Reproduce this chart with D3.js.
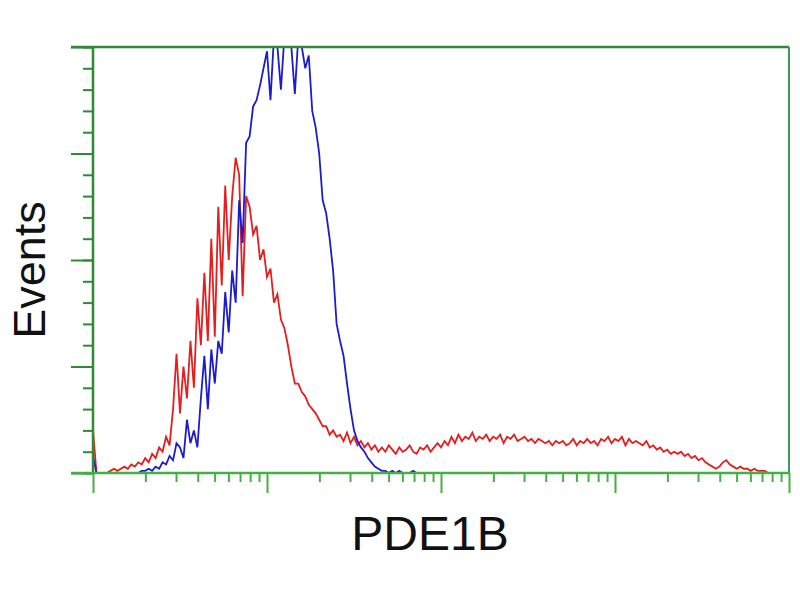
<!DOCTYPE html>
<html>
<head>
<meta charset="utf-8">
<script src="https://cdn.jsdelivr.net/npm/d3@7"></script>
<style>
  html, body { margin: 0; padding: 0; background: #fff; }
  svg { display: block; }
</style>
</head>
<body>
<svg id="chart" width="800" height="600"></svg>
<script>
// ---- data ----
// histogram bins: 200 bins, each 0.02 decades wide, starting at 10^0
const binLogStart = 0;
const binLogWidth = 0.02;

const redCounts = [
  20,0,0,0,0,1,2,1,2,3, 2,4,3,5,4,7,5,9,7,12,
  10,17,13,30,56,28,50,35,62,40, 82,60,94,62,110,64,125,88,135,100,
  130,148,140,83,130,125,112,116,100,105, 92,96,80,84,72,68,60,50,42,42,
  38,36,32,30,28,25,22,22,18,20, 17,18,15,19,14,17,13,15,12,14,
  11,13,10,12,10,13,11,9,12,10, 11,13,10,9,12,11,13,10,12,14,
  12,15,13,17,14,18,15,17,16,19, 15,17,16,18,15,17,16,18,14,17,
  16,18,15,16,17,15,16,14,16,15, 14,15,13,15,14,15,13,14,16,13,
  15,14,16,14,15,13,16,15,17,14, 16,15,17,13,16,14,15,14,13,15,
  12,13,11,12,10,11,9,10,9,10, 8,9,7,8,6,7,5,4,3,2,
  3,5,6,4,3,2,3,2,2,1, 2,1,1,1,0,0,0,0,0,0
];

const blueCounts = [
  8,0,0,0,0,0,0,0,0,0, 0,0,0,0,1,1,2,1,3,2,
  5,4,8,6,14,12,7,25,14,20, 12,35,55,30,58,42,62,56,85,66,
  95,80,128,108,155,158,172,175,182,190, 198,175,205,200,180,205,200,200,178,205,
  200,190,196,170,162,150,128,122,110,95, 70,62,55,42,30,20,15,12,10,7,
  5,3,2,1,1,0,1,0,1,0, 0,0,1,0,0,0,0,0,0,0,
  0,0,0,0,0,0,0,0,0,0, 0,0,0,0,0,0,0,0,0,0,
  0,0,0,0,0,0,0,0,0,0, 0,0,0,0,0,0,0,0,0,0,
  0,0,0,0,0,0,0,0,0,0, 0,0,0,0,0,0,0,0,0,0,
  0,0,0,0,0,0,0,0,0,0, 0,0,0,0,0,0,0,0,0,0,
  0,0,0,0,0,0,0,0,0,0, 0,0,0,0,0,0,0,0,0,0
];

const xDomain = [1, 10000];
const yDomain = [0, 200];
const yMajorTicks = [0, 50, 100, 150, 200];
const xLabel = "PDE1B";
const yLabel = "Events";

// ---- layout ----
const mLeft = 93, mRight = 789, mTop = 47, mBottom = 473;
const svg = d3.select("#chart");

const x = d3.scaleLog().domain(xDomain).range([mLeft, mRight]);
const y = d3.scaleLinear().domain(yDomain).range([mBottom, mTop]);

const frameDark = "#2f8a36";
const frameBright = "#43b043";

svg.append("defs").append("clipPath").attr("id", "plotclip")
  .append("rect").attr("x", mLeft).attr("y", mTop).attr("width", mRight - mLeft).attr("height", mBottom - mTop);

function seriesPoints(counts) {
  return counts.map((c, i) => ({ v: Math.pow(10, binLogStart + i * binLogWidth), c }));
}
const line = d3.line().x(d => x(d.v)).y(d => y(d.c));

const plot = svg.append("g").attr("clip-path", "url(#plotclip)");
plot.append("path").datum(seriesPoints(redCounts))
  .attr("d", line).attr("fill", "none").attr("stroke", "#e41e1e").attr("stroke-width", 1.8);
plot.append("path").datum(seriesPoints(blueCounts))
  .attr("d", line).attr("fill", "none").attr("stroke", "#1c1ccc").attr("stroke-width", 1.8);

// y axis ticks
const yMinor = d3.range(yDomain[0], yDomain[1] + 1, 10);
const yAxisMinor = d3.axisLeft(y).tickValues(yMinor).tickSize(10).tickFormat("");
const yAxisMajor = d3.axisLeft(y).tickValues(yMajorTicks).tickSize(22).tickFormat("");
[yAxisMinor, yAxisMajor].forEach(ax => {
  const g = svg.append("g").attr("transform", `translate(${mLeft},0)`).call(ax);
  g.select(".domain").remove();
  g.selectAll("line").attr("stroke", frameDark).attr("stroke-width", 2);
});

// x axis ticks
const xAllTicks = x.ticks();
const xMajor = xAllTicks.filter(v => Math.abs(Math.log10(v) - Math.round(Math.log10(v))) < 1e-9);
const xMinor = xAllTicks.filter(v => !xMajor.includes(v));
const xAxisMinor = d3.axisBottom(x).tickValues(xMinor).tickSize(9).tickFormat("");
const xAxisMajor = d3.axisBottom(x).tickValues(xMajor).tickSize(20).tickFormat("");
[xAxisMinor, xAxisMajor].forEach(ax => {
  const g = svg.append("g").attr("transform", `translate(0,${mBottom})`).call(ax);
  g.select(".domain").remove();
  g.selectAll("line").attr("stroke", frameBright).attr("stroke-width", 2);
});

// frame
svg.append("line").attr("x1", mLeft).attr("x2", mLeft).attr("y1", mTop).attr("y2", mBottom)
  .attr("stroke", frameDark).attr("stroke-width", 2.5);
svg.append("line").attr("x1", mLeft - 22).attr("x2", mRight).attr("y1", mTop).attr("y2", mTop)
  .attr("stroke", frameDark).attr("stroke-width", 2.5);
svg.append("line").attr("x1", mRight).attr("x2", mRight).attr("y1", mTop).attr("y2", mBottom)
  .attr("stroke", "#3d9a5a").attr("stroke-width", 2);
svg.append("line").attr("x1", mLeft - 22).attr("x2", mRight).attr("y1", mBottom).attr("y2", mBottom)
  .attr("stroke", frameBright).attr("stroke-width", 2.5);

// labels
svg.append("text").attr("x", 430).attr("y", 550).attr("text-anchor", "middle")
  .attr("font-family", "Liberation Sans, Arial, sans-serif").attr("font-size", 48)
  .attr("fill", "#111").text(xLabel);
svg.append("text").attr("transform", "translate(45,270) rotate(-90)").attr("text-anchor", "middle")
  .attr("font-family", "Liberation Sans, Arial, sans-serif").attr("font-size", 45)
  .attr("fill", "#111").text(yLabel);
</script>
</body>
</html>
